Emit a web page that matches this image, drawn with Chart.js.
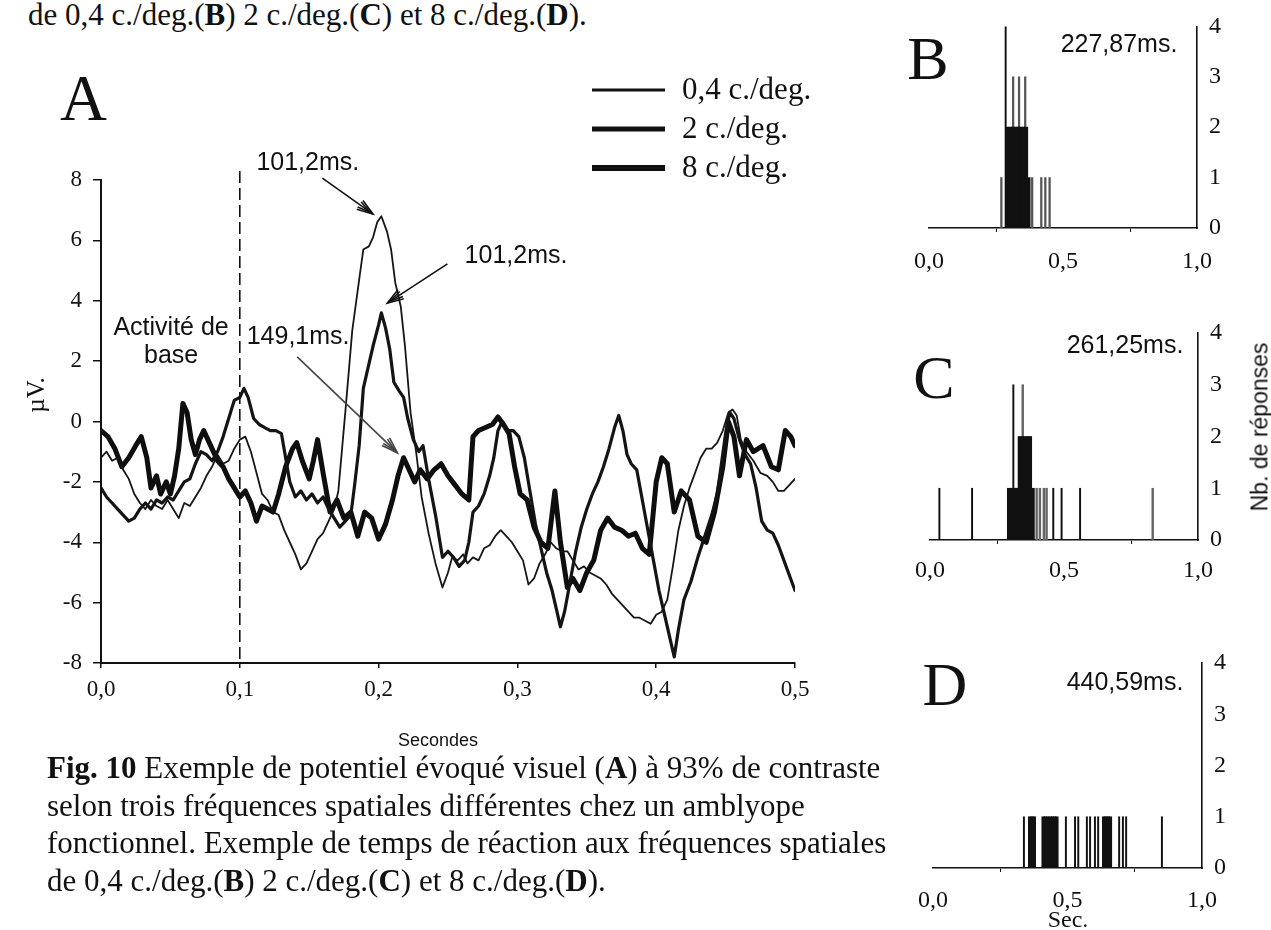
<!DOCTYPE html>
<html><head><meta charset="utf-8">
<script src="https://cdn.jsdelivr.net/npm/chart.js@4.4.1/dist/chart.umd.min.js"></script>
<style>
html,body{margin:0;padding:0;background:#fff;}
body{width:1271px;height:930px;overflow:hidden;position:relative;}
canvas{position:absolute;}
.tx{position:absolute;white-space:nowrap;color:#111;}
.serif{font-family:"Liberation Serif","Times New Roman",serif;}
.sans{font-family:"Liberation Sans",Arial,sans-serif;}
.c{transform:translate(-50%,-50%);line-height:1;}
</style></head><body>

<div class="tx serif" style="left:28px;top:-4px;font-size:31px;line-height:37.5px;">de 0,4 c./deg.(<b>B</b>) 2 c./deg.(<b>C</b>) et 8 c./deg.(<b>D</b>).</div>

<canvas id="cA" width="880" height="760" style="left:0;top:0"></canvas>
<canvas id="cB" width="391" height="290" style="left:880px;top:0"></canvas>
<canvas id="cC" width="391" height="320" style="left:880px;top:290px"></canvas>
<canvas id="cD" width="391" height="320" style="left:880px;top:610px"></canvas>

<div class="tx serif" style="left:47px;top:749px;font-size:31px;line-height:37.5px;"><b>Fig. 10</b> Exemple de potentiel évoqué visuel (<b>A</b>) à 93% de contraste<br>selon trois fréquences spatiales différentes chez un amblyope<br>fonctionnel. Exemple de temps de réaction aux fréquences spatiales<br>de 0,4 c./deg.(<b>B</b>) 2 c./deg.(<b>C</b>) et 8 c./deg.(<b>D</b>).</div>

<div class="tx serif c" style="left:928px;top:58px;font-size:62px;">B</div>
<div class="tx serif c" style="left:934px;top:377px;font-size:62px;">C</div>
<div class="tx serif c" style="left:945px;top:684px;font-size:62px;">D</div>
<div class="tx sans c" style="left:1119px;top:43px;font-size:25px;">227,87ms.</div>
<div class="tx sans c" style="left:1125px;top:344px;font-size:25px;">261,25ms.</div>
<div class="tx sans c" style="left:1125px;top:681px;font-size:25px;">440,59ms.</div>
<div class="tx sans" style="left:1260px;top:427px;font-size:23px;line-height:1;transform:translate(-50%,-50%) rotate(-90deg);">Nb. de réponses</div>
<div class="tx serif c" style="left:1068px;top:919px;font-size:24px;">Sec.</div>

<script>
// ===== Panel A : evoked potentials (seconds, µV) =====
const stimulusT = 0.1;
const seriesNames = ['0,4 c./deg.', '2 c./deg.', '8 c./deg.'];
const yTicksA = [-8, -6, -4, -2, 0, 2, 4, 6, 8];
const xTicksA = [0, 0.1, 0.2, 0.3, 0.4, 0.5];

const thin04 = [[0,-1.2],[0.004,-1.0],[0.008,-1.3],[0.012,-1.2],[0.016,-1.6],[0.02,-1.9],[0.024,-2.4],[0.028,-2.7],[0.032,-2.9],[0.036,-2.6],[0.04,-2.8],[0.044,-2.9],[0.048,-2.6],[0.052,-2.9],[0.056,-3.2],[0.06,-2.7],[0.064,-2.8],[0.068,-2.5],[0.072,-2.2],[0.076,-1.8],[0.08,-1.5],[0.084,-1.1],[0.088,-1.4],[0.092,-1.3],[0.096,-0.9],[0.1,-0.6],[0.104,-0.5],[0.108,-1.0],[0.112,-1.7],[0.116,-2.4],[0.12,-2.6],[0.124,-3.0],[0.128,-3.1],[0.132,-3.6],[0.136,-4.0],[0.14,-4.4],[0.144,-4.9],[0.148,-4.7],[0.152,-4.3],[0.156,-3.9],[0.16,-3.7],[0.164,-3.3],[0.168,-2.9],[0.171,-2.3],[0.176,0.3],[0.181,3.0],[0.186,4.7],[0.189,5.7],[0.193,5.8],[0.196,6.1],[0.199,6.6],[0.202,6.8],[0.206,6.3],[0.209,5.7],[0.212,4.6],[0.216,3.8],[0.219,2.5],[0.223,0.3],[0.227,-1.0],[0.231,-2.5],[0.236,-3.7],[0.241,-4.7],[0.246,-5.5],[0.25,-5.0],[0.253,-4.5],[0.257,-4.6],[0.261,-4.4],[0.264,-4.7],[0.268,-4.5],[0.272,-4.6],[0.276,-4.2],[0.28,-4.1],[0.284,-3.8],[0.288,-3.6],[0.292,-3.8],[0.296,-4.0],[0.3,-4.3],[0.304,-4.6],[0.308,-5.4],[0.312,-5.2],[0.316,-4.7],[0.32,-4.4],[0.324,-4.0],[0.328,-4.2],[0.332,-4.3],[0.336,-4.3],[0.34,-4.6],[0.344,-4.9],[0.348,-4.8],[0.352,-5.0],[0.356,-5.1],[0.36,-5.2],[0.364,-5.4],[0.368,-5.7],[0.372,-5.9],[0.376,-6.1],[0.38,-6.3],[0.384,-6.5],[0.388,-6.5],[0.392,-6.6],[0.396,-6.7],[0.4,-6.4],[0.404,-6.3],[0.408,-5.9],[0.412,-4.8],[0.416,-3.6],[0.42,-2.8],[0.424,-2.2],[0.428,-1.7],[0.432,-1.2],[0.436,-0.9],[0.44,-0.9],[0.444,-0.7],[0.448,-0.3],[0.452,0.3],[0.455,0.4],[0.458,0.2],[0.461,-0.6],[0.465,-1.0],[0.47,-1.3],[0.475,-1.7],[0.48,-1.8],[0.484,-2.0],[0.488,-2.3],[0.492,-2.3],[0.496,-2.1],[0.5,-1.9]];

const mid2 = [[0,-2.2],[0.004,-2.5],[0.008,-2.7],[0.012,-2.9],[0.016,-3.1],[0.02,-3.3],[0.024,-3.2],[0.028,-2.9],[0.032,-2.7],[0.036,-2.9],[0.04,-2.6],[0.044,-2.7],[0.048,-2.5],[0.052,-2.6],[0.056,-2.3],[0.06,-2.0],[0.064,-1.9],[0.068,-1.4],[0.072,-1.0],[0.076,-1.1],[0.08,-1.3],[0.084,-1.0],[0.088,-0.5],[0.092,0.1],[0.096,0.7],[0.1,0.8],[0.103,1.1],[0.106,0.8],[0.11,0.1],[0.114,-0.1],[0.118,-0.2],[0.122,-0.3],[0.126,-0.3],[0.13,-0.4],[0.133,-1.2],[0.136,-2.0],[0.14,-2.5],[0.144,-2.3],[0.148,-2.6],[0.152,-2.4],[0.156,-2.7],[0.16,-2.5],[0.164,-2.9],[0.168,-3.2],[0.172,-3.5],[0.176,-3.3],[0.18,-3.1],[0.183,-2.0],[0.186,-0.8],[0.189,1.1],[0.193,1.9],[0.196,2.5],[0.2,3.2],[0.202,3.6],[0.205,3.1],[0.208,2.4],[0.211,1.3],[0.215,1.0],[0.218,0.8],[0.221,0.1],[0.225,-0.6],[0.229,-1.0],[0.232,-0.8],[0.236,-1.9],[0.241,-3.1],[0.246,-4.5],[0.25,-4.3],[0.254,-4.5],[0.258,-4.8],[0.262,-4.6],[0.265,-4.0],[0.268,-3.0],[0.272,-2.8],[0.276,-2.4],[0.28,-1.8],[0.283,-1.2],[0.286,-0.3],[0.289,0.0],[0.293,-0.3],[0.297,-0.3],[0.301,-0.5],[0.305,-1.2],[0.309,-2.3],[0.313,-3.4],[0.317,-4.2],[0.321,-5.0],[0.325,-5.6],[0.329,-6.4],[0.331,-6.8],[0.334,-6.3],[0.338,-5.3],[0.342,-4.3],[0.346,-3.5],[0.35,-2.9],[0.354,-2.4],[0.358,-2.0],[0.362,-1.5],[0.366,-0.9],[0.37,-0.2],[0.373,0.2],[0.376,-0.3],[0.379,-1.1],[0.382,-1.4],[0.386,-1.6],[0.39,-2.6],[0.394,-3.6],[0.398,-4.6],[0.402,-5.6],[0.406,-6.4],[0.41,-7.2],[0.413,-7.8],[0.416,-6.9],[0.42,-5.9],[0.425,-5.3],[0.43,-4.5],[0.435,-3.8],[0.44,-3.1],[0.444,-2.4],[0.447,-1.4],[0.45,-0.4],[0.453,0.3],[0.456,0.1],[0.46,-0.6],[0.464,-1.1],[0.468,-1.4],[0.472,-2.2],[0.476,-3.3],[0.48,-3.6],[0.484,-3.7],[0.488,-4.1],[0.492,-4.6],[0.496,-5.1],[0.5,-5.6]];

const thick8 = [[0,-0.3],[0.005,-0.5],[0.01,-0.9],[0.015,-1.5],[0.02,-1.2],[0.025,-0.8],[0.029,-0.5],[0.033,-1.2],[0.036,-2.2],[0.04,-1.8],[0.043,-2.4],[0.047,-2.0],[0.05,-2.4],[0.053,-1.8],[0.056,-0.9],[0.059,0.6],[0.062,0.3],[0.065,-0.6],[0.068,-1.1],[0.071,-0.6],[0.074,-0.3],[0.077,-0.6],[0.08,-0.9],[0.084,-1.3],[0.088,-1.5],[0.092,-1.9],[0.096,-2.2],[0.1,-2.5],[0.104,-2.3],[0.108,-2.7],[0.112,-3.3],[0.116,-2.8],[0.12,-2.9],[0.124,-3.0],[0.128,-2.4],[0.133,-1.5],[0.138,-0.9],[0.141,-0.7],[0.145,-1.3],[0.15,-1.9],[0.153,-1.3],[0.156,-0.6],[0.16,-1.7],[0.165,-3.0],[0.17,-2.6],[0.175,-3.2],[0.18,-3.0],[0.185,-3.8],[0.19,-3.0],[0.195,-3.2],[0.2,-3.9],[0.205,-3.4],[0.21,-2.6],[0.214,-1.8],[0.218,-1.2],[0.222,-1.6],[0.226,-2.0],[0.23,-1.6],[0.235,-1.9],[0.24,-1.6],[0.245,-1.4],[0.25,-1.8],[0.255,-2.1],[0.26,-2.4],[0.265,-2.6],[0.268,-0.5],[0.272,-0.3],[0.277,-0.2],[0.282,-0.1],[0.286,0.15],[0.29,-0.1],[0.294,-0.4],[0.298,-1.5],[0.302,-2.4],[0.307,-2.6],[0.312,-3.5],[0.317,-4.0],[0.322,-4.2],[0.327,-2.3],[0.331,-4.0],[0.336,-5.5],[0.34,-5.2],[0.345,-5.6],[0.35,-5.0],[0.355,-4.6],[0.36,-3.6],[0.365,-3.2],[0.37,-3.5],[0.375,-3.6],[0.38,-3.8],[0.385,-3.7],[0.39,-4.2],[0.395,-4.4],[0.4,-2.0],[0.404,-1.2],[0.408,-1.4],[0.413,-3.0],[0.418,-2.3],[0.424,-2.6],[0.43,-3.8],[0.436,-4.0],[0.442,-3.0],[0.448,-1.5],[0.452,0.0],[0.456,-0.5],[0.46,-1.8],[0.465,-0.6],[0.47,-1.0],[0.477,-0.8],[0.483,-1.5],[0.488,-1.6],[0.493,-0.3],[0.497,-0.5],[0.5,-0.8]];

// annotation labels (data coordinates of text and arrow)
const notesA = [
  {text:'101,2ms.', tx:0.149, ty:8.55, ax:0.1595, ay:8.06, bx:0.196, by:6.87, color:'#111'},
  {text:'101,2ms.', tx:0.299, ty:5.48, ax:0.2496, ay:5.22, bx:0.2063, by:3.92, color:'#111'},
  {text:'149,1ms.', tx:0.142, ty:2.80, ax:0.1414, ay:2.14, bx:0.2136, by:-1.04, color:'#444'}
];
const baseLabel = {lines:['Activité de','base'], tx:0.0505, ty:[3.10, 2.17]};

// ===== Panels B, C, D : reaction-time histograms (seconds, count) =====
const bBlockT = [0.293,0.303,0.313,0.323,0.333,0.343,0.353,0.363,0.372];
const bBlockN = [2,2,2,2,2,2,2,2,1];
const bLineT  = [0.286];
const bLineN  = [4];
const bGrayT  = [0.270,0.314,0.336,0.359,0.385,0.419,0.434,0.450];
const bGrayN  = [1,3,3,3,1,1,1,1];

const cBlockT = [0.294,0.304,0.314,0.324,0.334,0.344,0.354,0.364,0.374,0.384];
const cBlockN = [1,1,1,1,2,2,2,2,2,1];
const cLineT  = [0.035,0.157,0.311,0.460,0.491,0.560];
const cLineN  = [1,1,3,1,1,1];
const cGrayT  = [0.346,0.398,0.410,0.425,0.435,0.831];
const cGrayN  = [3,1,1,1,1,1];

const dBlockT = [0.360,0.368,0.376,0.410,0.418,0.426,0.436,0.444,0.452,0.460,0.635,0.643,0.651,0.659];
const dBlockN = [1,1,1,1,1,1,1,1,1,1,1,1,1,1];
const dLineT  = [0.338,0.494,0.528,0.540,0.572,0.584,0.602,0.614,0.692,0.706,0.718,0.851];
const dLineN  = [1,1,1,1,1,1,1,1,1,1,1,1];

const xTicksRT = [0, 0.5, 1.0];
const yTicksRT = [0, 1, 2, 3, 4];

// ===== helpers =====
const SERIF = '"Liberation Serif", "Times New Roman", serif';
const SANS = '"Liberation Sans", Arial, sans-serif';
const INK = '#111';
const comma = v => Number(v).toFixed(1).replace('.', ',');
const toPts = arr => arr.map(p => ({x:p[0], y:p[1]}));
const zipPts = (T, N) => T.map((t, i) => ({x:t, y:N[i]}));

function arrow(ctx, x1, y1, x2, y2, color){
  ctx.save();
  ctx.strokeStyle = color; ctx.lineWidth = 1.6;
  ctx.beginPath(); ctx.moveTo(x1, y1); ctx.lineTo(x2, y2); ctx.stroke();
  const a = Math.atan2(y2 - y1, x2 - x1), L = 17, w = 0.32;
  ctx.beginPath();
  ctx.moveTo(x2 - L*Math.cos(a - w), y2 - L*Math.sin(a - w)); ctx.lineTo(x2, y2);
  ctx.lineTo(x2 - L*Math.cos(a + w), y2 - L*Math.sin(a + w));
  ctx.stroke();
  ctx.beginPath();
  ctx.moveTo(x2 - L*Math.cos(a - 0.18), y2 - L*Math.sin(a - 0.18)); ctx.lineTo(x2 - 3*Math.cos(a), y2 - 3*Math.sin(a));
  ctx.lineTo(x2 - L*Math.cos(a + 0.18), y2 - L*Math.sin(a + 0.18));
  ctx.stroke();
  ctx.restore();
}

const extrasA = {
  id: 'extrasA',
  beforeDatasetsDraw(chart){
    const {ctx, scales:{x, y}, chartArea} = chart;
    ctx.save();
    ctx.strokeStyle = INK; ctx.lineWidth = 1.6; ctx.setLineDash([12, 5]);
    const sx = x.getPixelForValue(stimulusT);
    ctx.beginPath(); ctx.moveTo(sx, y.getPixelForValue(8.3)); ctx.lineTo(sx, chartArea.bottom); ctx.stroke();
    ctx.restore();
  },
  afterDatasetsDraw(chart){
    const {ctx, scales:{x, y}, chartArea} = chart;
    ctx.save();
    ctx.textAlign = 'center'; ctx.textBaseline = 'middle';
    ctx.font = '25px ' + SANS;
    notesA.forEach(n => {
      ctx.fillStyle = INK;
      ctx.fillText(n.text, x.getPixelForValue(n.tx), y.getPixelForValue(n.ty));
      arrow(ctx, x.getPixelForValue(n.ax), y.getPixelForValue(n.ay), x.getPixelForValue(n.bx), y.getPixelForValue(n.by), n.color);
    });
    baseLabel.lines.forEach((s, i) => {
      ctx.fillStyle = INK;
      ctx.fillText(s, x.getPixelForValue(baseLabel.tx), y.getPixelForValue(baseLabel.ty[i]));
    });
    ctx.font = '18px ' + SANS;
    ctx.fillText('Secondes', (chartArea.left + chartArea.right)/2 - 10, 741);
    ctx.save();
    ctx.translate(37, 395); ctx.rotate(-Math.PI/2);
    ctx.font = '25px ' + SERIF;
    ctx.fillText('µV.', 0, 0);
    ctx.restore();
    ctx.font = '65px ' + SERIF; ctx.textAlign = 'left'; ctx.textBaseline = 'alphabetic';
    ctx.fillText('A', 60, 120);
    const widths = chart.data.datasets.map(d => d.legendWidth);
    const rows = [90, 129, 168];
    ctx.font = '31px ' + SERIF; ctx.textBaseline = 'middle';
    chart.data.datasets.forEach((d, i) => {
      ctx.strokeStyle = INK; ctx.lineWidth = widths[i];
      ctx.beginPath(); ctx.moveTo(592, rows[i]); ctx.lineTo(665, rows[i]); ctx.stroke();
      ctx.fillStyle = INK; ctx.fillText(d.label, 682, rows[i] + 1);
    });
    ctx.restore();
  }
};

new Chart(document.getElementById('cA'), {
  type: 'line',
  data: {
    datasets: [
      {label: seriesNames[0], data: toPts(thin04), borderColor: '#161616', borderWidth: 1.8, legendWidth: 3},
      {label: seriesNames[1], data: toPts(mid2), borderColor: '#141414', borderWidth: 3.2, legendWidth: 5},
      {label: seriesNames[2], data: toPts(thick8), borderColor: '#0e0e0e', borderWidth: 5, legendWidth: 6}
    ]
  },
  options: {
    responsive: false, animation: false, events: [],
    elements: {point: {radius: 0}, line: {tension: 0, borderJoinStyle: 'round', borderCapStyle: 'round'}},
    layout: {padding: {left: 0, top: 180, right: 85, bottom: 0}},
    plugins: {legend: {display: false}, tooltip: {enabled: false}},
    scales: {
      x: {
        type: 'linear', min: xTicksA[0], max: xTicksA[xTicksA.length - 1],
        afterBuildTicks: s => { s.ticks = xTicksA.map(v => ({value: v})); },
        ticks: {callback: comma, font: {family: SERIF, size: 23}, color: INK, padding: 8, maxRotation: 0, autoSkip: false},
        grid: {display: true, drawOnChartArea: false, drawTicks: true, tickLength: 5, color: INK, lineWidth: 1.5},
        border: {display: true, color: INK, width: 2},
        afterFit: s => { s.height = 97; }
      },
      y: {
        min: yTicksA[0], max: yTicksA[yTicksA.length - 1],
        afterBuildTicks: s => { s.ticks = yTicksA.map(v => ({value: v})); },
        ticks: {font: {family: SERIF, size: 23}, color: INK, padding: 11, autoSkip: false},
        grid: {display: true, drawOnChartArea: false, drawTicks: true, tickLength: 8, color: INK, lineWidth: 1.5},
        border: {display: true, color: INK, width: 2},
        afterFit: s => { s.width = 101; }
      }
    }
  },
  plugins: [extrasA]
});

function rtPanel(id, pad, xh, yw, labelPad, sets){
  return new Chart(document.getElementById(id), {
    type: 'bar',
    data: {datasets: sets.map(s => ({
      data: zipPts(s.t, s.n), backgroundColor: s.color, borderWidth: 0,
      barThickness: s.w, grouped: false
    }))},
    options: {
      responsive: false, animation: false, events: [],
      layout: {padding: pad},
      plugins: {legend: {display: false}, tooltip: {enabled: false}},
      scales: {
        x: {
          type: 'linear', min: 0, max: 1, offset: false,
          afterBuildTicks: s => { s.ticks = xTicksRT.map(v => ({value: v})); },
          ticks: {callback: comma, font: {family: SERIF, size: 24}, color: INK, padding: labelPad, maxRotation: 0, autoSkip: false},
          grid: {display: true, drawOnChartArea: false, drawTicks: true, tickLength: 4, color: INK, lineWidth: 1},
          border: {display: true, color: INK, width: 1.6},
          afterFit: s => { s.height = xh; }
        },
        y: {
          position: 'right', min: 0, max: 4,
          afterBuildTicks: s => { s.ticks = yTicksRT.map(v => ({value: v})); },
          ticks: {font: {family: SERIF, size: 24}, color: INK, padding: 12, autoSkip: false},
          grid: {display: false, drawTicks: false},
          border: {display: true, color: INK, width: 1.6},
          afterFit: s => { s.width = yw; }
        }
      }
    }
  });
}

rtPanel('cB', {left: 49, top: 24, right: 0, bottom: 0}, 62, 74, 15, [
  {t: bBlockT, n: bBlockN, color: '#111', w: 3},
  {t: bLineT, n: bLineN, color: '#111', w: 1.3},
  {t: bGrayT, n: bGrayN, color: '#555', w: 1.6}
]);
rtPanel('cC', {left: 50, top: 43, right: 0, bottom: 0}, 70, 73, 12, [
  {t: cBlockT, n: cBlockN, color: '#111', w: 3},
  {t: cLineT, n: cLineN, color: '#111', w: 1.3},
  {t: cGrayT, n: cGrayN, color: '#666', w: 1.8}
]);
rtPanel('cD', {left: 53, top: 53, right: 0, bottom: 0}, 62, 69, 14, [
  {t: dBlockT, n: dBlockN, color: '#111', w: 3},
  {t: dLineT, n: dLineN, color: '#111', w: 1.3}
]);
</script>
</body></html>
